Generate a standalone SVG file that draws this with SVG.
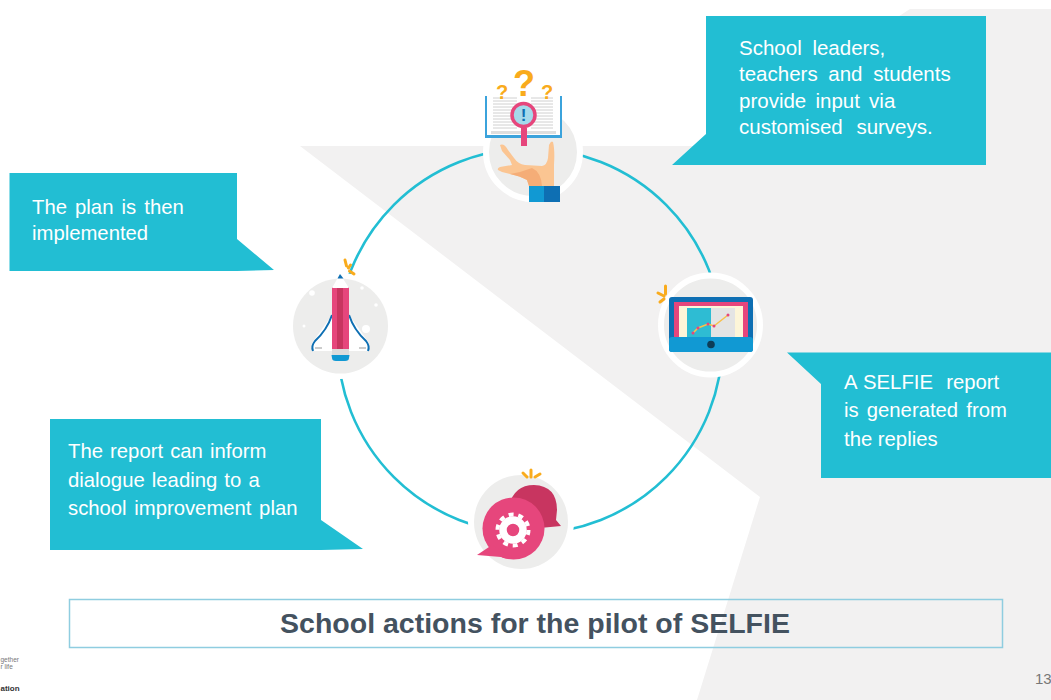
<svg xmlns="http://www.w3.org/2000/svg" width="1051" height="700" viewBox="0 0 1051 700">
<style>
.t{font-family:"Liberation Sans",Arial,sans-serif;font-size:20.3px;fill:#fff;white-space:pre}
.c{fill:#22bed3}
.ring{fill:none;stroke:#22bed3;stroke-width:2.6}
.disc{fill:#ededec;stroke:#fff;stroke-width:6}
.halo{fill:#fff}
.s{stroke:#f9ab1c;stroke-width:3;stroke-linecap:round;fill:none}
.p{fill:#e6467c}
.d{fill:#c83560}
.b{fill:#1199d3}
.bd{fill:#0e6fb3}
.q{font-family:"Liberation Sans",Arial,sans-serif;font-weight:700;fill:#f9ab1c}
.ln{stroke:#d0d0d0;stroke-width:1;fill:none}
</style>
<rect width="1051" height="700" fill="#fff"/>
<g id="background">
<polygon points="300,146 700,146 910,9 1051,9 1051,700 697,700 760,497" fill="#f2f1f1"/>
</g>
<g id="connectors">
<circle class="ring" cx="530" cy="341" r="192.500"/>
</g>
<g id="node-input">
<circle class="disc" cx="533" cy="152" r="47"/>
<rect x="485" y="96" width="77" height="42" fill="#3ba3dc"/>
<rect x="487" y="96" width="73" height="39" fill="#fff"/>
<path class="ln" d="M493 98H517M493 101H517M493 104H517M493 107H517M493 110H517M493 113H517M493 116H517M493 119H517M493 122H517M493 125H517M493 128H517M531 98H553M531 101H553M531 104H553M531 107H553M531 110H553M531 113H553M531 116H553M531 119H553M531 122H553M531 125H553M531 128H553"/>
<rect x="491" y="131" width="65" height="3" fill="#dedede"/>
<rect x="521" y="128" width="6" height="18" class="p"/>
<circle cx="523.500" cy="115" r="11.500" fill="#a5d9ea" stroke="#e6467c" stroke-width="3.500"/>
<text x="523.500" y="121" text-anchor="middle" style="font-family:'Liberation Sans',sans-serif;font-size:17px;font-weight:700" fill="#0e6fb3">!</text>
<text class="q" x="524" y="96" text-anchor="middle" font-size="36">?</text>
<text class="q" x="502" y="99" text-anchor="middle" font-size="20">?</text>
<text class="q" x="547" y="99" text-anchor="middle" font-size="20">?</text>
<path d="M500 145Q504 143 508 150L514 158Q518 164 525 165L542 166Q547 165 548 158L549 145Q551 140 553 142Q555 150 554 165L554 186L529 186L527 180Q520 176 510 174L502 172L498 170Q497 168 500 167L512 165L510 160L502 151Z" fill="#fbc592"/>
<path d="M532 168Q541 172 542 186L529 186L527 180Q520 176 510 174Q522 172 532 168Z" fill="#f5ad77"/>
<rect x="529" y="186" width="15" height="16" fill="#1199d3"/>
<rect x="544" y="186" width="16" height="16" fill="#0e6fb3"/>
</g>
<g id="node-report">
<circle class="disc" cx="710.500" cy="325" r="49.500"/>
<rect x="669" y="297" width="84" height="55" rx="3" class="bd"/>
<rect x="674" y="302" width="74" height="36" fill="#e6467c"/>
<rect x="679" y="306" width="64" height="32" fill="#fdf5d8"/>
<rect x="687" y="308" width="24" height="30" fill="#2ebcd3"/>
<rect x="711" y="308" width="24" height="30" fill="#e4e4e4"/>
<rect x="669" y="337" width="84" height="15" rx="3" class="b"/>
<circle cx="711" cy="344.500" r="3.800" fill="#0d3d57"/>
<polyline points="693,333 698,328 708,324 714,326 728,315" fill="none" stroke="#f9c04a" stroke-width="1.500"/>
<g class="p"><circle cx="693" cy="333" r="1.500"/><circle cx="698" cy="328" r="1.500"/><circle cx="708" cy="324" r="1.500"/><circle cx="714" cy="326" r="1.500"/><circle cx="728" cy="315" r="1.500"/></g>
<path class="s" d="M665.500 286L665.500 294M658 293L664 296M660 302L664 299"/>
</g>
<g id="node-dialogue">
<circle class="halo" cx="521" cy="522" r="53"/>
<circle cx="521" cy="522" r="47" fill="#ededec"/>
<path d="M509 506Q514 485 534 485Q557 486 557 510L556 520L561 526L540 528Z" class="d"/>
<circle cx="513.500" cy="528.500" r="31" class="p"/>
<path d="M492 545L477 555L514 558Z" class="p"/>
<circle cx="513" cy="530" r="10" fill="none" stroke="#fff" stroke-width="7.500"/>
<circle cx="513" cy="530" r="15.500" fill="none" stroke="#fff" stroke-width="4" stroke-dasharray="5 4.740"/>
<path class="s" d="M523 473L527 477M531 470L531 477M540 474L535 477"/>
</g>
<g id="node-plan">
<circle class="halo" cx="340.500" cy="326" r="53"/>
<circle cx="340.500" cy="326" r="47.500" fill="#ededec"/>
<path d="M332 315L312 343L313 351L368 351L369 343L349 315Z" fill="#fff"/>
<path d="M332 315Q327 330 315 341Q311 346 313 351M349 315Q354 330 366 341Q370 346 368 351" fill="none" stroke="#0e6fb3" stroke-width="2"/>
<path d="M315 348H322M359 348H366" stroke="#999" stroke-width="1.200"/>
<rect x="332" y="287" width="17" height="62" class="p"/>
<rect x="337" y="287" width="6" height="62" class="d"/>
<path d="M332 288L340 274L349 288Z" fill="#fff"/>
<path d="M337.500 278.500L340 274L343.500 278.500Z" class="bd"/>
<rect x="332" y="349" width="17" height="6" fill="#dcdcdc"/>
<path d="M331.500 355L349.500 355L349 358Q349 361 345 361L336 361Q332 361 332 358Z" class="b"/>
<circle cx="366" cy="329" r="4" fill="#fff"/>
<circle cx="312" cy="293" r="2.800" fill="#fff"/>
<circle cx="304" cy="326" r="1.500" fill="#fff"/>
<circle cx="362" cy="288" r="1.800" fill="#fff"/>
<circle cx="376" cy="305" r="1.800" fill="#fff"/>
<path class="s" d="M345 260L346.500 266M350.500 265L348.500 268M354 274L349.500 271"/>
</g>
<g id="callout-input">
<polygon class="c" points="706,16 986,16 986,165 672,165 706,134"/>
<text class="t" x="739" y="55" word-spacing="5" style="font-size:20.5px">School leaders,</text>
<text class="t" x="739" y="81" word-spacing="5" style="font-size:20.5px">teachers and students</text>
<text class="t" x="739" y="108" word-spacing="3.500" style="font-size:20.5px">provide input via</text>
<text class="t" x="739" y="134" word-spacing="8" style="font-size:20.5px">customised surveys.</text>
</g>
<g id="callout-report">
<polygon class="c" points="787,352.500 1051,352.500 1051,478 821,478 821,384"/>
<text class="t" x="844" y="389" word-spacing="1">A SELFIE  report</text>
<text class="t" x="844" y="417" word-spacing="2.500">is generated from</text>
<text class="t" x="844" y="446">the replies</text>
</g>
<g id="callout-dialogue">
<polygon class="c" points="50,419 321,419 321,520 363,549 321,550 50,550"/>
<text class="t" x="68" y="458" word-spacing="1.500">The report can inform</text>
<text class="t" x="68" y="487" word-spacing="1.500">dialogue leading to a</text>
<text class="t" x="68" y="515" word-spacing="2">school improvement plan</text>
</g>
<g id="callout-plan">
<polygon class="c" points="9.500,173 237,173 237,239 274,270 237,271 9.500,271"/>
<text class="t" x="32" y="214" word-spacing="2.500">The plan is then</text>
<text class="t" x="32" y="240">implemented</text>
</g>
<g id="title">
<rect x="69.500" y="599.500" width="933" height="48" fill="none" stroke="#8fcde0" stroke-width="1.500"/>
<text x="535" y="633" text-anchor="middle" style="font-family:'Liberation Sans',sans-serif;font-size:28.500px;font-weight:700" fill="#44525f">School actions for the pilot of SELFIE</text>
</g>
<g id="footer" style="font-family:'Liberation Sans',sans-serif" fill="#777">
<text x="0.500" y="662" font-size="6.500">gether</text>
<text x="0.500" y="669" font-size="6.500">r life</text>
<text x="0.500" y="691" font-size="8" font-weight="700" fill="#333">ation</text>
<text x="1035" y="684" font-size="15">13</text>
</g>
</svg>
